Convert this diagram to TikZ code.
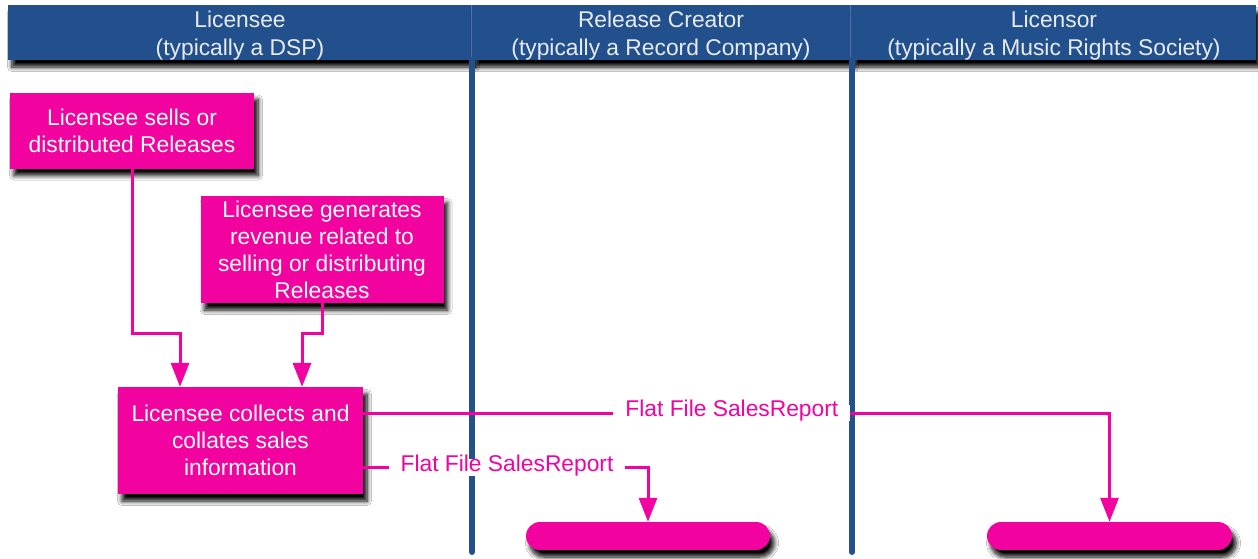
\documentclass[tikz,border=0pt]{standalone}
\usepackage{fontspec}
\setmainfont{Liberation Sans}
\usetikzlibrary{arrows.meta,shadows.blur,calc}
\definecolor{lanehdr}{HTML}{22508C}
\definecolor{laneline}{HTML}{24508C}
\definecolor{hdrsepc}{HTML}{4A72AC}
\definecolor{mag}{HTML}{F2039F}
\definecolor{hdrtext}{HTML}{E8EBF2}
\begin{document}
\begin{tikzpicture}[x=1pt,y=-1pt,
  every node/.style={font=\fontsize{22.8}{27}\selectfont},
  myshadow/.style={blur shadow={shadow xshift=4pt, shadow yshift=-7pt, shadow blur radius=4.5pt, shadow blur steps=8, shadow opacity=100}},
  hdrbox/.style={fill=lanehdr, minimum height=55pt, inner sep=0pt, myshadow},
  hdrtxt/.style={text=hdrtext, inner sep=0pt, align=center, font=\fontsize{22.8}{27.5}\selectfont},
  hdrsep/.style={draw=hdrsepc, line width=0.8pt},
  laneln/.style={draw=laneline, line width=6pt, line cap=round},
  pbox/.style={fill=mag, text=white, inner sep=0pt, align=center, myshadow},
  pill/.style={fill=mag, rounded corners=14pt, inner sep=0pt, minimum height=28pt, myshadow},
  conn/.style={draw=mag, line width=3pt, -{Triangle[width=18pt,length=24pt]}},
  flatlbl/.style={fill=white, text=mag, inner xsep=12pt, inner ysep=3.7pt, text height=0.8em, text depth=0.1em}
]
\useasboundingbox (0,0) rectangle (1258,558);
\fill[white] (0,0) rectangle (1258,558);

% lane headers
\node[hdrbox, minimum width=463pt] (h1) at (239.5,32.5) {};
\node[hdrbox, minimum width=379pt] (h2) at (660.5,32.5) {};
\node[hdrbox, minimum width=406pt] (h3) at (1053,32.5) {};
\draw[hdrsep] (h1.north east) -- (h1.south east);
\draw[hdrsep] (h2.north east) -- (h2.south east);
\node[hdrtxt] (t1) at (240,35.5) {Licensee\\(typically a DSP)};
\node[hdrtxt] (t2) at (661,35.5) {Release Creator\\(typically a Record Company)};
\node[hdrtxt] (t3) at (1054,35.5) {Licensor\\(typically a Music Rights Society)};

% lane lines
\coordinate (l1t) at (472,60);
\coordinate (l1b) at (472,552);
\coordinate (l2t) at (852,60);
\coordinate (l2b) at (852,552);
\draw[laneln] (l1t) -- (l1b);
\draw[laneln] (l2t) -- (l2b);

% process boxes
\node[pbox, minimum width=244pt, minimum height=76pt] (b1) at (132,130.5)
  {Licensee sells or\\distributed Releases};
\node[pbox, minimum width=243pt, minimum height=107pt] (b2) at (322,249.5)
  {Licensee generates\\revenue related to\\selling or distributing\\Releases};
\node[pbox, minimum width=245pt, minimum height=107pt] (b3) at (240.5,440.5)
  {Licensee collects and\\collates sales\\information};

% end pills
\node[pill, minimum width=244pt] (p1) at (648,536) {};
\node[pill, minimum width=245pt] (p2) at (1109.5,536) {};

% connectors
\coordinate (j1) at (180,333);
\coordinate (j2) at (302,333);
\draw[conn] (b1.south) |- (j1) -- (j1 |- b3.north);
\draw[conn] (b2.south) |- (j2) -- (j2 |- b3.north);

\coordinate (o1) at ($(b3.east)+(0,-27.5)$);
\coordinate (o2) at ($(b3.east)+(0,27)$);
\draw[conn] (o1) -- node[flatlbl, pos=0.494] {Flat File SalesReport} (o1 -| p2.north) -- (p2.north);
\draw[conn] (o2) -- node[flatlbl, pos=0.505] {Flat File SalesReport} (o2 -| p1.north) -- (p1.north);
\end{tikzpicture}
\end{document}
